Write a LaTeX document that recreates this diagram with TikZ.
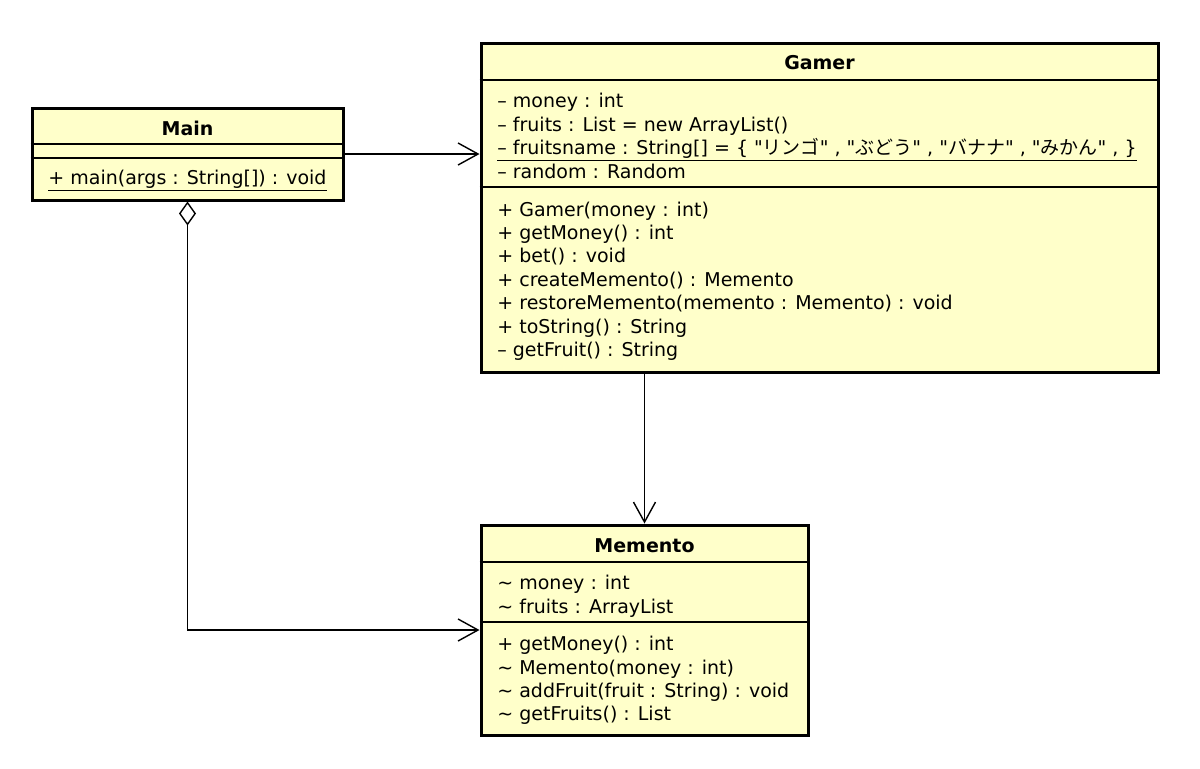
\documentclass[tikz,border=0pt]{standalone}
\usepackage{fontspec}
\setmainfont{DejaVu Sans}[Ligatures=TeXOff]
\newfontfamily\jpfont{Noto Sans CJK JP}
\usetikzlibrary{arrows.meta}

\definecolor{umlfill}{HTML}{FFFFCA}

\tikzset{
  classbox/.style = {draw, line width=1.5pt, fill=umlfill, inner sep=0pt},
  sepline/.style = {line width=0.6pt},
  classname/.style = {anchor=base, inner sep=0pt, font=\bfseries\fontsize{9.5}{11}\selectfont},
  member/.style = {anchor=base west, inner sep=0pt, font=\fontsize{9.5}{11}\selectfont},
  assoc/.style = {line width=0.7pt, -{Straight Barb[length=10pt,width=11pt]}},
  aggr/.style = {line width=0.7pt, {Diamond[open,fill=white,length=12pt,width=8.5pt]}-{Straight Barb[length=10pt,width=11pt]}}
}

\begin{document}
\begin{tikzpicture}[x=0.5pt, y=-0.5pt]
        \useasboundingbox (0, 0) rectangle (1200, 768);

        \node [classbox, minimum width=155.5pt, minimum height=46pt] (main) at (187.5, 154) {};
        \node [classbox, minimum width=338.5pt, minimum height=164.5pt] (gamer) at (819.5, 207.5) {};
        \node [classbox, minimum width=163.5pt, minimum height=105pt] (memento) at (644.5, 630) {};

        \draw [sepline] (main.west |- 0, 144) -- (main.east |- 0, 144);
        \draw [sepline] (main.west |- 0, 158) -- (main.east |- 0, 158);
        \draw [sepline] (gamer.west |- 0, 80) -- (gamer.east |- 0, 80);
        \draw [sepline] (gamer.west |- 0, 187) -- (gamer.east |- 0, 187);
        \draw [sepline] (memento.west |- 0, 562) -- (memento.east |- 0, 562);
        \draw [sepline] (memento.west |- 0, 622) -- (memento.east |- 0, 622);

        \node [classname] (mainname) at (187.5, 135) {Main};
        \node [member, anchor=base] (mainop) at (187.5, 184) {\underline{+ main(args : String[]) : void}};

        \node [classname] (gamername) at (819.5, 69) {Gamer};
        \node [member] (gamerat1) at (497, 107) {\textendash{} money : int};
        \node [member] (gamerat2) at (497, 131) {\textendash{} fruits : List = new ArrayList()};
        \node [member] (gamerat3) at (497, 154) {\underline{\textendash{} fruitsname : String[] = \{ "{\jpfont リンゴ}" , "{\jpfont ぶどう}" , "{\jpfont バナナ}" , "{\jpfont みかん}" , \}}};
        \node [member] (gamerat4) at (497, 178) {\textendash{} random : Random};
        \node [member] (gamerop1) at (497, 216) {+ Gamer(money : int)};
        \node [member] (gamerop2) at (497, 239) {+ getMoney() : int};
        \node [member] (gamerop3) at (497, 262) {+ bet() : void};
        \node [member] (gamerop4) at (497, 286) {+ createMemento() : Memento};
        \node [member] (gamerop5) at (497, 309) {+ restoreMemento(memento : Memento) : void};
        \node [member] (gamerop6) at (497, 333) {+ toString() : String};
        \node [member] (gamerop7) at (497, 356) {\textendash{} getFruit() : String};

        \node [classname] (mementoname) at (644.5, 552) {Memento};
        \node [member] (mementoat1) at (497, 589) {\textasciitilde{} money : int};
        \node [member] (mementoat2) at (497, 613) {\textasciitilde{} fruits : ArrayList};
        \node [member] (mementoop1) at (497, 650) {+ getMoney() : int};
        \node [member] (mementoop2) at (497, 674) {\textasciitilde{} Memento(money : int)};
        \node [member] (mementoop3) at (497, 697) {\textasciitilde{} addFruit(fruit : String) : void};
        \node [member] (mementoop4) at (497, 720) {\textasciitilde{} getFruits() : List};

        \draw [assoc] (main.east) -- (main.east -| gamer.west);
        \draw [assoc] (memento.north |- gamer.south) -- (memento.north);
        \draw [aggr] (main.south) |- (memento.west);
      \end{tikzpicture}
\end{document}
